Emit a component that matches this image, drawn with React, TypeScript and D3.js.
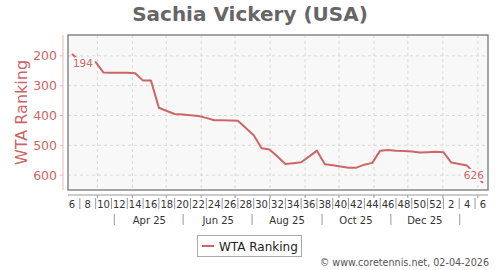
import React from "react";
import * as d3 from "d3";

const title = "Sachia Vickery (USA)";
const seriesName = "WTA Ranking";
const copyright = "© www.coretennis.net, 02-04-2026";

// first ranking week (Monday, ISO week 6 of 2025); one value per week
const firstWeek = "2025-02-03";
const ranking = [
  194, 217, 216, 221, 256, 257, 257, 257, 258, 283, 283, 374, 385, 395, 397, 399,
  402, 408, 416, 416, 417, 418, 442, 466, 510, 514, 538, 563, 560, 557, 538, 518,
  564, 567, 571, 575, 575, 565, 559, 518, 516, 518, 519, 521, 524, 523, 522, 523,
  558, 563, 568, 597, 626,
];
const yTicks = [200, 300, 400, 500, 600];
const yDomain = [130, 650];
const xDomain = ["2025-02-03", "2026-02-10"];
const monthLabels = ["Apr 25", "Jun 25", "Aug 25", "Oct 25", "Dec 25"];
const monthLabelDates = ["2025-04-16", "2025-06-16", "2025-08-16", "2025-10-16", "2025-12-16"];
const monthSepDates = ["2025-03-16", "2025-05-16", "2025-07-16", "2025-09-16", "2025-11-16", "2026-01-16"];

const W = 500;
const H = 270;
const L = 68, R = 488, T = 35, B = 190;
const lineColor = "#cc6666";
const font = "DejaVu Sans, sans-serif";

const parse = (s: string) => new Date(s + "T00:00:00Z");

export default function App() {
  const x = d3.scaleUtc().domain(xDomain.map(parse)).range([L, R]);
  const y = d3.scaleLinear().domain(yDomain).range([T, B]);

  const start = parse(firstWeek);
  const weekMondays = ranking.map((_, i) => d3.utcWeek.offset(start, i));
  const mid = (d: Date) => d3.utcHour.offset(d, 84);
  const pts = ranking.map((v, i) => ({ d: mid(weekMondays[i]), v }));

  const line = d3
    .line<{ d: Date; v: number }>()
    .x((p) => x(p.d))
    .y((p) => y(p.v));

  const months = d3.utcMonth.range(d3.utcMonth.ceil(x.domain()[0]), x.domain()[1]);

  const weekNums = weekMondays.map((d) => +d3.utcFormat("%V")(d));

  const first = pts[0];
  const last = pts[pts.length - 1];

  return (
    <svg width={W} height={H} style={{ position: "absolute", left: 0, top: 0 }} fontFamily={font}>
      <rect x={0} y={0} width={W} height={H} fill="#fff" />
      <text x={250} y={21} textAnchor="middle" fontSize={20} fontWeight="bold" fill="#666">
        {title}
      </text>

      {/* plot area */}
      <rect x={L} y={T} width={R - L} height={B - T} fill="#f8f8f8" />
      {months.map((m, i) => (
        <line key={"gx" + i} x1={x(m)} x2={x(m)} y1={T} y2={B} stroke="#d8d8d8" strokeDasharray="3,3" />
      ))}
      {yTicks.map((t) => (
        <line key={"gy" + t} x1={L} x2={R} y1={y(t)} y2={y(t)} stroke="#d8d8d8" strokeDasharray="3,3" />
      ))}

      <path d={line(pts) || ""} fill="none" stroke={lineColor} strokeWidth={2} strokeLinejoin="round" />

      {/* point labels */}
      <rect x={x(first.d) + 3} y={y(first.v) + 3} width={20} height={12} fill="#f8f8f8" />
      <text x={x(first.d) + 1} y={y(first.v) + 12.5} fontSize={10.5} fill={lineColor}>
        {first.v}
      </text>
      <rect x={x(last.d) - 18} y={y(last.v) - 14} width={20} height={12} fill="#f8f8f8" />
      <text x={x(last.d) + 1} y={y(last.v) - 3.5} fontSize={10.5} fill={lineColor} textAnchor="end">
        {last.v}
      </text>

      <rect x={L} y={T} width={R - L} height={B - T} fill="none" stroke="#888" strokeWidth={1.5} />

      {/* y axis */}
      <line x1={63} x2={63} y1={T} y2={B} stroke="#e8b8b8" />
      {yTicks.map((t) => (
        <g key={"yt" + t}>
          <line x1={60} x2={63} y1={y(t)} y2={y(t)} stroke="#e8b8b8" />
          <text x={57} y={y(t) + 4.5} fontSize={12.5} fill={lineColor} textAnchor="end">
            {t}
          </text>
        </g>
      ))}
      <text
        transform={`translate(27,${(T + B) / 2}) rotate(-90)`}
        textAnchor="middle"
        fontSize={16}
        fill={lineColor}
      >
        {seriesName}
      </text>

      {/* x axis */}
      <line x1={L} x2={R} y1={195} y2={195} stroke="#999" />
      {months.map((m, i) => (
        <line key={"xt" + i} x1={x(m)} x2={x(m)} y1={195} y2={198} stroke="#999" />
      ))}
      {pts.map((p, i) =>
        i % 2 === 0 ? (
          <text key={"wl" + i} x={x(p.d)} y={208} fontSize={10} fill="#333" textAnchor="middle">
            {weekNums[i]}
          </text>
        ) : (
          <line key={"ws" + i} x1={x(p.d)} x2={x(p.d)} y1={198} y2={209} stroke="#999" />
        )
      )}
      {monthLabels.map((lab, i) => (
        <text key={"ml" + i} x={x(parse(monthLabelDates[i]))} y={224} fontSize={10} fill="#333" textAnchor="middle">
          {lab}
        </text>
      ))}
      {monthSepDates.map((s, i) => (
        <line key={"ms" + i} x1={x(parse(s))} x2={x(parse(s))} y1={214} y2={225} stroke="#999" />
      ))}

      {/* legend */}
      <rect x={197.5} y={235.5} width={104} height={21} fill="#fff" stroke="#aaa" />
      <line x1={202} x2={214} y1={246} y2={246} stroke={lineColor} strokeWidth={2} />
      <text x={219} y={250.5} fontSize={12} fill="#222">
        {seriesName}
      </text>

      <text x={489} y={266} fontSize={9.6} fill="#555" textAnchor="end">
        {copyright}
      </text>
    </svg>
  );
}
